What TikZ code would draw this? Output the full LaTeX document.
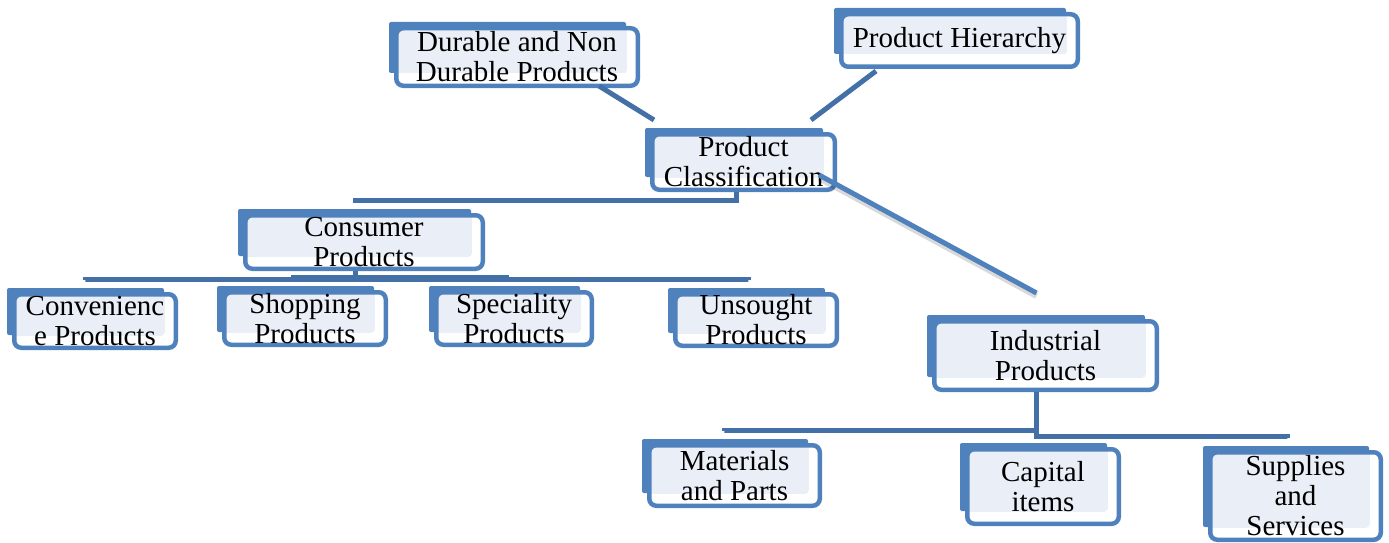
\documentclass[tikz,border=0pt]{standalone}
\usepackage{fontspec}
\setmainfont{Liberation Serif}
\usetikzlibrary{calc}

\definecolor{boxblue}{HTML}{4F81BD}
\definecolor{boxlight}{HTML}{EAEFF7}
\definecolor{linkblue}{HTML}{4470A8}

% #1 name, #2-#5 outer corners of the front frame (x0,y0,x1,y1), #6 text
\newcommand\catbox[6]{%
  \fill[boxblue,rounded corners=2pt] (#2-5,#3-4) rectangle (#4-14,#5-15);
  \fill[boxlight] (#2+3,#3+4) rectangle (#4-14,#5-15);
  \pgfmathsetmacro\cbw{#4-#2-4.5}%
  \pgfmathsetmacro\cbh{#5-#3-4.5}%
  \node[catframe,minimum width=\cbw pt,minimum height=\cbh pt] (#1)
    at ({(#2+#4)/2},{(#3+#5)/2}) {#6};
}

\tikzset{
  catframe/.style={draw=boxblue, line width=4.5pt, rounded corners=7pt,
    inner sep=0pt, align=center, font=\fontsize{29}{30}\selectfont},
  link/.style={draw=linkblue, line width=5pt},
  linkshade/.style={draw=boxblue, line width=5pt},
  softshadow/.style={draw=black, opacity=0.15, line width=6pt}
}

\begin{document}
\begin{tikzpicture}[x=1pt,y=-1pt]
\useasboundingbox (0,0) rectangle (1389,543);

% boxes
\catbox{dur}{394}{26}{640}{88}{Durable and Non\\Durable Products}
\catbox{hier}{839}{12}{1080}{69}{Product Hierarchy}
\catbox{cls}{650}{132}{837}{192}{Product\\Classification}
\catbox{con}{243}{213}{485}{271}{Consumer\\Products}
\catbox{conv}{12}{292}{178}{350}{Convenienc\\e Products}
\catbox{shop}{222}{290}{388}{347}{Shopping\\Products}
\catbox{spec}{434}{290}{594}{347}{Speciality\\Products}
\catbox{uns}{673}{292}{839}{348}{Unsought\\Products}
\catbox{ind}{932}{319}{1159}{392}{Industrial\\Products}
\catbox{mat}{647}{443}{822}{508}{Materials\\and Parts}
\catbox{cap}{965}{447}{1121}{526}{Capital\\items}
\catbox{sup}{1208}{450}{1383}{542}{Supplies\\and\\Services}

% connector end points
\coordinate (durFoot)  at ($(dur.south east)+(-41,-2)$);
\coordinate (clsHeadL) at ($(cls.north west)+(4,-12)$);
\coordinate (hierFoot) at ($(hier.south west)+(37,2)$);
\coordinate (clsHeadR) at ($(cls.north east)+(-26,-12)$);
\coordinate (clsTail)  at ($(cls.south east)+(-18,-17)$);
\coordinate (indHead)  at ($(ind.north)+(-9,-26)$);

\coordinate (clsDrop) at ($(cls.south)+(-7,0)$);
\coordinate (clsBus)  at ($(clsDrop)+(0,8)$);
\coordinate (conTop)  at ($(con.north)+(-9,-10)$);

\coordinate (conDrop)  at ($(con.south)+(-9,0)$);
\coordinate (conBus)   at ($(conDrop)+(0,8)$);
\coordinate (convTick) at ($(conv.north)+(-10,-12)$);
\coordinate (unsTick)  at ($(uns.north)+(-8,-12)$);

\coordinate (indDrop)  at ($(ind.south)+(-9.5,0)$);
\coordinate (indBusL)  at ($(indDrop)+(0,38)$);
\coordinate (indBusR)  at ($(indDrop)+(0,44)$);
\coordinate (matTick)  at ($(mat.north)+(-10.5,-12)$);
\coordinate (supTick)  at ($(sup.north)+(-8.5,-12)$);

% connectors
\draw[link] (durFoot) -- (clsHeadL);
\draw[link] (hierFoot) -- (clsHeadR);
\draw[softshadow] ($(clsTail)+(0,3)$) -- ($(indHead)+(0,3)$);
\draw[linkshade] (clsTail) -- (indHead);

\draw[link] (clsDrop) -- (clsBus) -- (clsBus -| conTop) -- (conTop);

\draw[link] (conDrop) -- (conBus);
\draw[link] (convTick) -- (convTick |- conBus) -- (unsTick |- conBus) -- (unsTick);
\draw[link] ($(con.south west)+(48,6)$) -- ($(con.south east)+(24,6)$);

\draw[link] (indDrop) -- ($(indBusR)+(0,2.5)$);
\draw[link] (indBusL) -- (indBusL -| matTick) -- (matTick);
\draw[link] (indBusR) -- (indBusR -| supTick) -- (supTick);
\end{tikzpicture}
\end{document}
